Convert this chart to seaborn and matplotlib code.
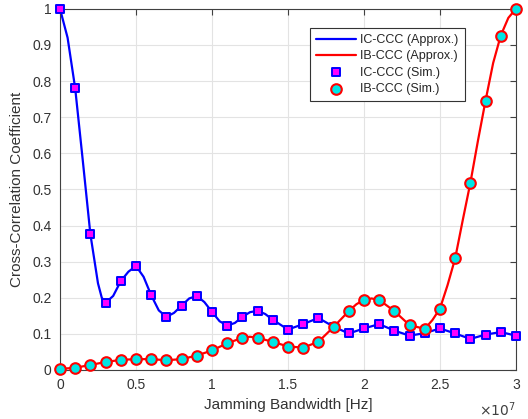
import numpy as np
import pandas as pd
import seaborn as sns
import matplotlib
matplotlib.use("Agg")
import matplotlib.pyplot as plt

# simulated points, one every 1 MHz (x in units of 1e6 Hz)
sim_bw = np.arange(0, 31)
ic_sim = [1.0, 0.78, 0.376, 0.186, 0.246, 0.288, 0.207, 0.147, 0.178, 0.205,
          0.161, 0.123, 0.147, 0.164, 0.139, 0.112, 0.127, 0.144, 0.120, 0.101,
          0.115, 0.127, 0.109, 0.095, 0.102, 0.115, 0.101, 0.086, 0.098, 0.105,
          0.095]
ib_sim = [0.003, 0.006, 0.014, 0.022, 0.028, 0.030, 0.030, 0.027, 0.030, 0.040,
          0.054, 0.074, 0.089, 0.089, 0.078, 0.065, 0.062, 0.078, 0.119, 0.163,
          0.194, 0.194, 0.163, 0.124, 0.114, 0.170, 0.309, 0.518, 0.746, 0.926,
          1.0]

# approximation curves (extra points where they bend)
ic_bw = [0, 0.5, 1, 1.5, 2, 2.5, 2.75, 3, 3.5, 4, 4.5, 5, 5.5, 6, 6.5, 7, 7.5, 8,
         8.5, 9, 9.5, 10, 10.5, 11, 11.5, 12, 12.5, 13, 13.5, 14, 15, 16, 17, 18,
         19, 20, 21, 22, 23, 24, 25, 26, 27, 28, 29, 30]
ic_approx = [1.0, 0.92, 0.78, 0.58, 0.376, 0.24, 0.2, 0.186, 0.205, 0.246, 0.272,
             0.288, 0.258, 0.207, 0.165, 0.147, 0.158, 0.178, 0.198, 0.205, 0.188,
             0.161, 0.135, 0.123, 0.130, 0.147, 0.160, 0.164, 0.155, 0.139, 0.112,
             0.127, 0.144, 0.120, 0.101, 0.115, 0.127, 0.109, 0.095, 0.102, 0.115,
             0.101, 0.086, 0.098, 0.105, 0.095]
ib_bw = [0, 1, 2, 3, 4, 5, 6, 7, 8, 9, 10, 11, 12, 12.5, 13, 14, 15, 16, 17, 18,
         19, 19.5, 20, 20.5, 21, 22, 23, 24, 24.5, 25, 25.5, 26, 26.5, 27, 27.5,
         28, 28.5, 29, 29.5, 30]
ib_approx = [0.003, 0.006, 0.014, 0.022, 0.028, 0.030, 0.030, 0.027, 0.030,
             0.040, 0.054, 0.074, 0.089, 0.092, 0.089, 0.078, 0.065, 0.062, 0.078,
             0.119, 0.163, 0.182, 0.194, 0.198, 0.194, 0.163, 0.124, 0.114, 0.138,
             0.170, 0.235, 0.309, 0.415, 0.518, 0.635, 0.746, 0.85, 0.926, 0.975,
             1.0]

x_ticks = [0, 0.5e7, 1e7, 1.5e7, 2e7, 2.5e7, 3e7]
x_ticklabels = ["0", "0.5", "1", "1.5", "2", "2.5", "3"]
y_ticks = [0, 0.1, 0.2, 0.3, 0.4, 0.5, 0.6, 0.7, 0.8, 0.9, 1]
y_ticklabels = ["0", "0.1", "0.2", "0.3", "0.4", "0.5", "0.6", "0.7", "0.8",
                "0.9", "1"]

scale = 1e6
sns.set_style("white")
plt.rcParams["font.family"] = ["Liberation Sans", "DejaVu Sans"]

fig = plt.figure(figsize=(5.28, 4.19), dpi=100)
ax = fig.add_axes([0.1136, 0.117, 0.8636, 0.862])

sns.lineplot(x=np.array(ic_bw) * scale, y=ic_approx, color="#0000ff", lw=1.6,
             sort=False, label="IC-CCC (Approx.)", ax=ax)
sns.lineplot(x=np.array(ib_bw) * scale, y=ib_approx, color="#ff0000", lw=1.6,
             sort=False, label="IB-CCC (Approx.)", ax=ax)
sns.scatterplot(x=sim_bw * scale, y=ic_sim, marker="s", s=38, color="#ff00ff",
                edgecolor="#0000ff", linewidth=1.4, label="IC-CCC (Sim.)",
                zorder=4, clip_on=False, ax=ax)
sns.scatterplot(x=sim_bw * scale, y=ib_sim, marker="o", s=58, color="#00e5e5",
                edgecolor="#ff0000", linewidth=1.5, label="IB-CCC (Sim.)",
                zorder=5, clip_on=False, ax=ax)

ax.set_xlim(0, 3e7)
ax.set_ylim(0, 1)
ax.set_xticks(x_ticks)
ax.set_xticklabels(x_ticklabels)
ax.set_yticks(y_ticks)
ax.set_yticklabels(y_ticklabels)

ax.grid(True, color="#e3e3e3", linewidth=0.8)
ax.set_axisbelow(True)
for sp in ax.spines.values():
    sp.set_color("#404040")
    sp.set_linewidth(0.8)
    sp.set_visible(True)
ax.tick_params(direction="in", top=True, right=True, length=4, width=0.8,
               colors="#404040", labelsize=10, labelcolor="#333333", pad=6)

ax.set_xlabel("Jamming Bandwidth [Hz]", fontsize=11, color="#333333",
              labelpad=4)
ax.set_ylabel("Cross-Correlation Coefficient", fontsize=11, color="#333333",
              labelpad=6)
ax.text(1.0, -0.085, r"$\times10^7$", transform=ax.transAxes, ha="right",
        va="top", fontsize=10, color="#404040")

leg = ax.legend(loc="upper left", bbox_to_anchor=(0.535, 0.965), fontsize=9,
                frameon=True, fancybox=False, framealpha=1, borderpad=0.5,
                labelspacing=0.35, handlelength=3.2, handletextpad=0.3)
leg.get_frame().set_edgecolor("#333333")
leg.get_frame().set_linewidth(0.8)

fig.savefig("out.png", dpi=100)
